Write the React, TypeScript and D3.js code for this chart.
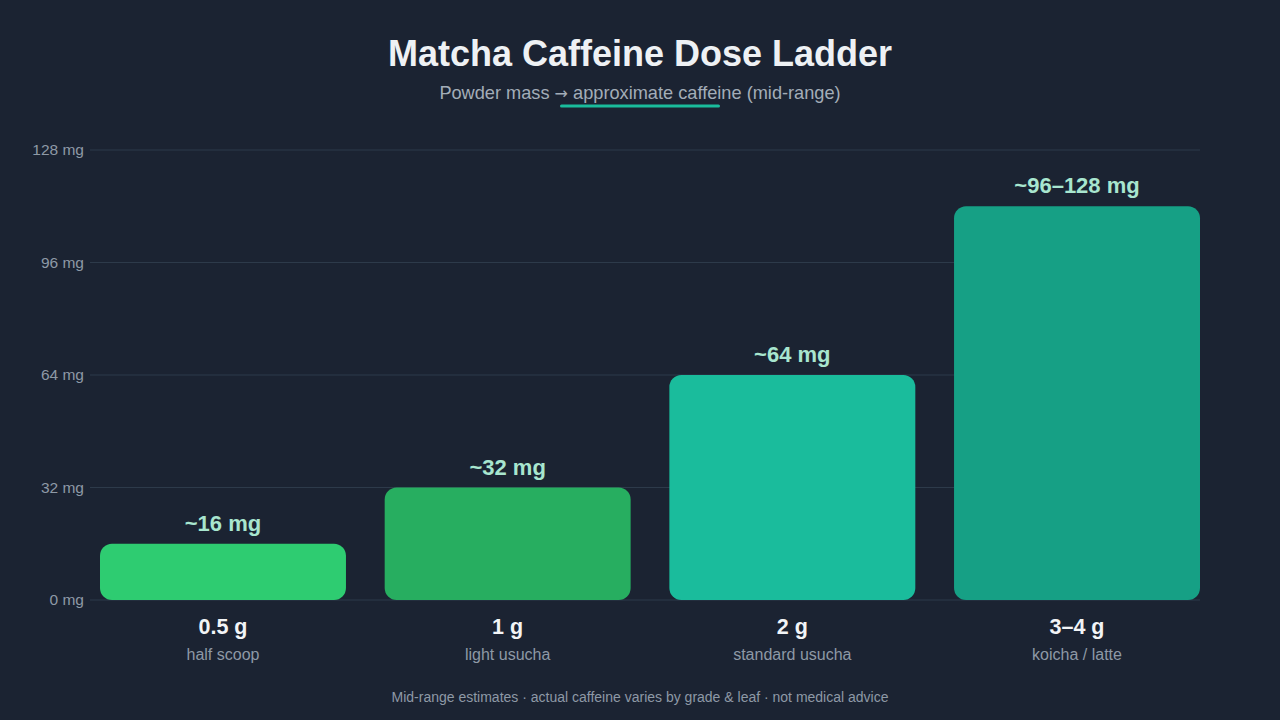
import React from "react";
import * as d3 from "d3";

const doses = ["0.5 g", "1 g", "2 g", "3–4 g"];
const styles = ["half scoop", "light usucha", "standard usucha", "koicha / latte"];
const caffeine = [16, 32, 64, 112];
const valueLabels = ["~16 mg", "~32 mg", "~64 mg", "~96–128 mg"];
const barColors = ["#2ecc71", "#27ae60", "#1abc9c", "#16a085"];
const yTicks = [0, 32, 64, 96, 128];

const W = 1280;
const H = 720;
const FONT = "'Liberation Sans', Arial, Helvetica, sans-serif";

export default function App() {
  const x = d3.scaleBand<string>().domain(doses).range([100, 1200]).paddingInner(0.136).paddingOuter(0);
  const y = d3.scaleLinear().domain([0, 128]).range([600, 150]);

  return (
    <svg width={W} height={H} style={{ position: "absolute", left: 0, top: 0, display: "block" }} fontFamily={FONT}>
      <rect x={0} y={0} width={W} height={H} fill="#1b2332" />
      <text x={640} y={66} textAnchor="middle" fontSize={36} fontWeight="bold" fill="#eef1f4">
        Matcha Caffeine Dose Ladder
      </text>
      <text x={640} y={99} textAnchor="middle" fontSize={18.2} fill="#a3adb8">
        Powder mass <tspan fontFamily="'DejaVu Sans', sans-serif" fontSize={16}>→</tspan> approximate caffeine (mid-range)
      </text>
      <rect x={560} y={104.5} width={160} height={3} rx={1.5} fill="#1abc9c" />

      {yTicks.map((t) => (
        <g key={t}>
          <line x1={90} x2={1200} y1={y(t)} y2={y(t)} stroke="#2d3a4a" strokeWidth={1} />
          <text x={84} y={y(t)} dy="0.35em" textAnchor="end" fontSize={15.5} fill="#8e99a6">
            {t} mg
          </text>
        </g>
      ))}

      {doses.map((d, i) => {
        const bx = x(d) as number;
        const bw = x.bandwidth();
        const top = y(caffeine[i]);
        const cx = bx + bw / 2;
        return (
          <g key={d}>
            <rect x={bx} y={top} width={bw} height={y(0) - top} rx={12} ry={12} fill={barColors[i]} />
            <text x={cx} y={top - 13} textAnchor="middle" fontSize={22} fontWeight="bold" fill="#a8e6cf">
              {valueLabels[i]}
            </text>
            <text x={cx} y={634} textAnchor="middle" fontSize={21.5} fontWeight="bold" fill="#f2f4f6">
              {d}
            </text>
            <text x={cx} y={660} textAnchor="middle" fontSize={16} fill="#8e99a6">
              {styles[i]}
            </text>
          </g>
        );
      })}

      <text x={640} y={702} textAnchor="middle" fontSize={14} fill="#8e99a6">
        Mid-range estimates · actual caffeine varies by grade &amp; leaf · not medical advice
      </text>
    </svg>
  );
}
